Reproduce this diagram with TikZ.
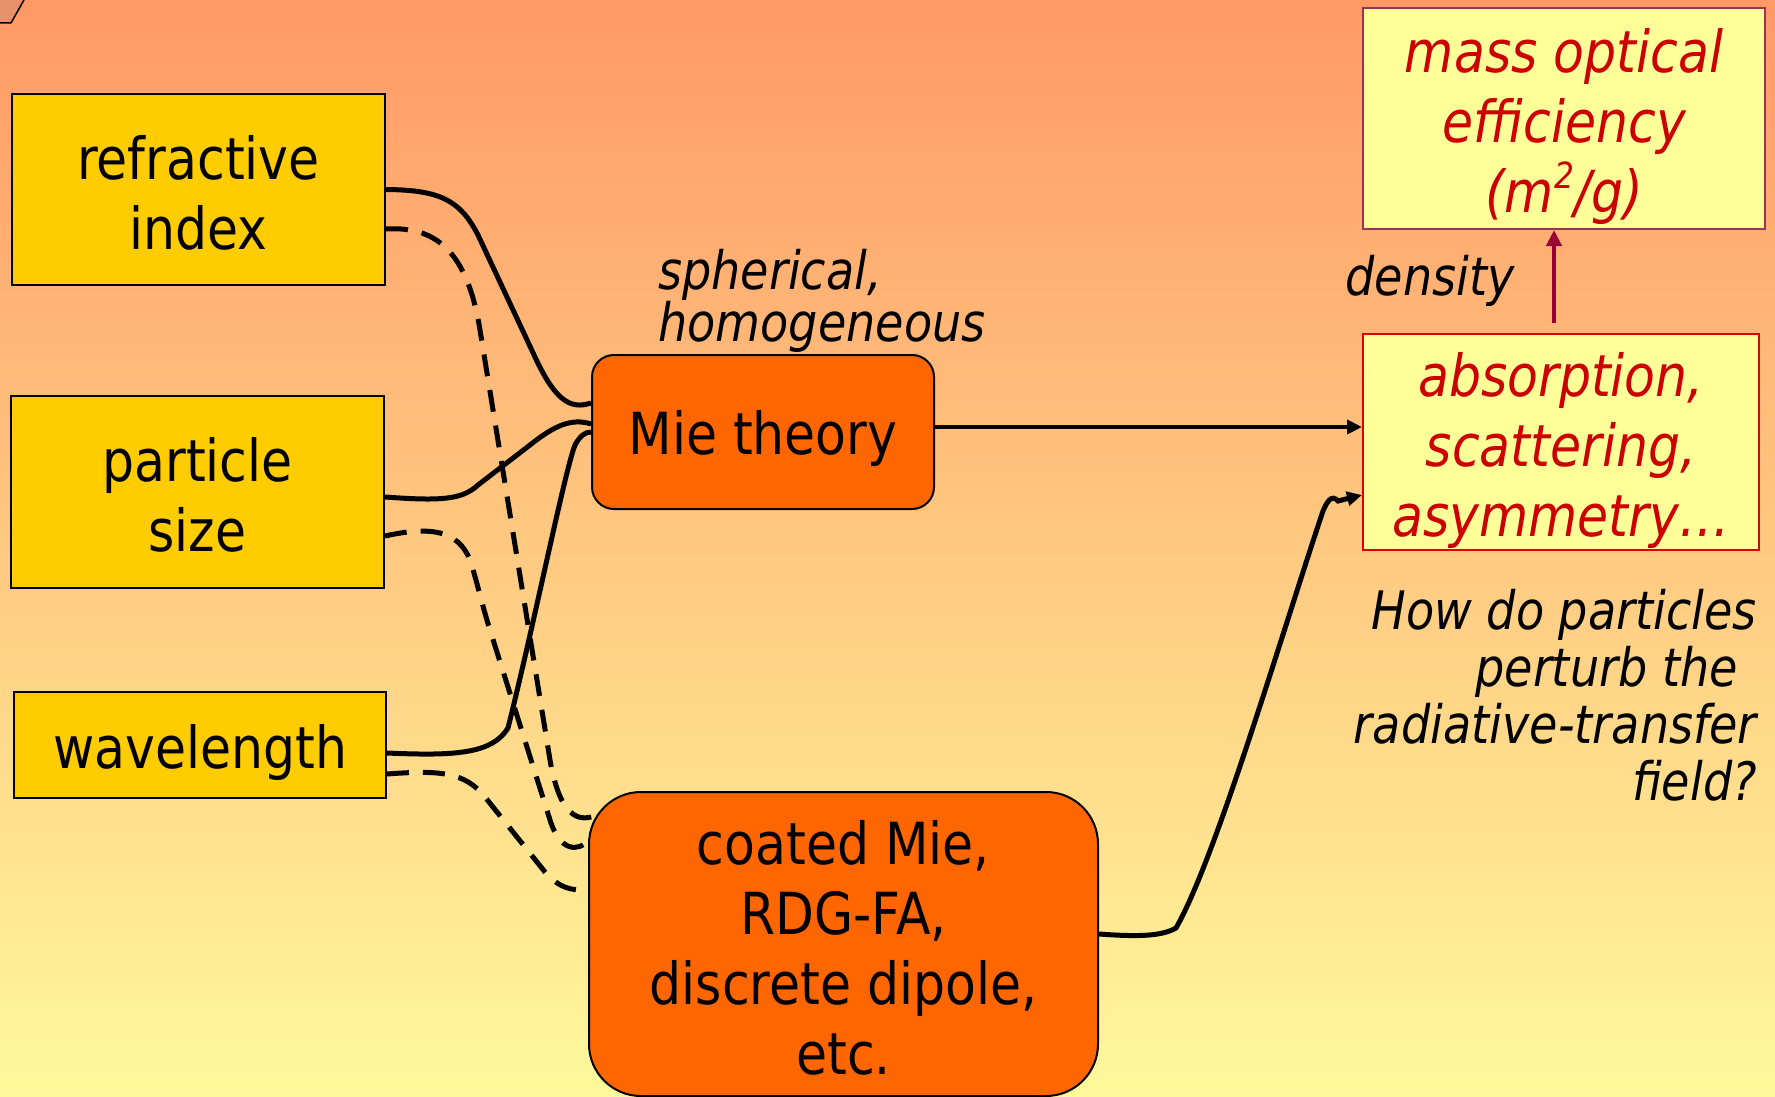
\documentclass[tikz,border=0pt]{standalone}
\usepackage{fontspec}
\setmainfont{DejaVu Sans}[FakeStretch=0.87]
\usetikzlibrary{arrows.meta}
\definecolor{bgtop}{HTML}{FF9966}
\definecolor{bgbot}{HTML}{FFF99C}
\definecolor{ybox}{HTML}{FFCC00}
\definecolor{obox}{HTML}{FF6600}
\definecolor{pbox}{HTML}{FFFF99}
\definecolor{redtxt}{HTML}{CC0000}
\definecolor{redborder}{HTML}{DD0000}
\definecolor{maroonarrow}{HTML}{990033}
\definecolor{massborder}{HTML}{993355}
\definecolor{cornerfill}{HTML}{E8906A}
\begin{document}
\begin{tikzpicture}[x=1pt,y=-1pt,
  inbox/.style={draw=black, line width=2pt, fill=ybox, inner sep=0pt},
  modelbox/.style={draw=black, line width=2pt, fill=obox, inner sep=0pt},
  resbox/.style={line width=2pt, fill=pbox, inner sep=0pt},
  boxtext/.style={align=center, inner sep=0pt, font=\fontsize{58}{70}\selectfont},
  restext/.style={boxtext, text=redtxt, font=\fontsize{58}{70}\selectfont\itshape},
  link/.style={line width=5pt, draw=black},
  dlink/.style={link, dash pattern=on 22pt off 14pt},
  note/.style={inner sep=0pt, font=\fontsize{53}{57}\selectfont\itshape},
  tipblack/.style={-{Triangle[length=15pt,width=14pt]}}
]
\useasboundingbox (0,0) rectangle (1775,1097);
\shade[top color=bgtop, bottom color=bgbot] (0,0) rectangle (1775,1097);
\fill[cornerfill] (0,0) -- (24,0) -- (11,23) -- (0,23) -- cycle;
\draw[line width=1.5pt] (0,23) -- (11,23) -- (24,0);

% boxes
\node[inbox, minimum width=373pt, minimum height=191pt] (ri) at (198.5,189.5) {};
\node[boxtext] (ri-t) at ([yshift=-3pt]ri.center) {refractive\\index};
\node[inbox, minimum width=373pt, minimum height=192pt] (ps) at (197.5,492) {};
\node[boxtext] (ps-t) at ([yshift=-3pt]ps.center) {particle\\size};
\node[inbox, minimum width=372pt, minimum height=106pt] (wl) at (200,745) {};
\node[boxtext] (wl-t) at ([yshift=-7pt]wl.center) {wavelength};
\node[modelbox, rounded corners=22pt, minimum width=342pt, minimum height=154pt] (mie) at (763,432) {};
\node[boxtext] (mie-t) at ([yshift=-6pt]mie.center) {Mie theory};
\node[modelbox, rounded corners=52pt, minimum width=509pt, minimum height=304pt] (coat) at (843.5,944) {};
\node[boxtext] (coat-t) at ([yshift=-4pt]coat.center) {coated Mie,\\RDG-FA,\\discrete dipole,\\etc.};
\node[resbox, draw=redborder, minimum width=396pt, minimum height=216pt] (abs) at (1561,442) {};
\node[restext] (abs-t) at ([yshift=-8pt]abs.center) {absorption,\\scattering,\\asymmetry…};
\node[resbox, draw=massborder, minimum width=402pt, minimum height=221pt] (mass) at (1564,118.5) {};
\node[restext] (mass-t) at ([yshift=-8pt]mass.center) {mass optical\\efficiency\\(m\raisebox{0.42em}{\fontsize{36}{36}\selectfont 2}/g)};

% labels
\node[note, anchor=west, align=left, font=\fontsize{53}{51}\selectfont\itshape] (sph) at (658,301) {spherical,\\homogeneous};
\node[note] (dens) at (1430,281) {density};
\node[note, anchor=east, align=right] (how) at (1757,695) {How do particles\\perturb the\rule{19pt}{0pt}\\radiative-transfer\\field?};

% solid links to Mie theory
\draw[link] (ri.east) .. controls (440,190) and (460,200) .. (478,235) -- (535,357) .. controls (555,400) and (570,410) .. ([yshift=29pt]mie.west);
\draw[link] ([yshift=-5pt]ps.east) .. controls (440,501) and (462,500) .. (478,485) -- (530,445) .. controls (555,425) and (572,418) .. ([yshift=8pt]mie.west);
\draw[link] ([yshift=-8pt]wl.east) .. controls (455,756) and (492,754) .. (508,728) .. controls (535,620) and (565,470) .. (575,445) .. controls (580,436) and (585,432) .. (mie.west);

% dashed links to coated box
\draw[dlink] ([yshift=-39.5pt]ri.east) .. controls (435,226) and (467,250) .. (480,330) -- (550,760) .. controls (558,805) and (572,826) .. ([xshift=9pt,yshift=129pt]coat.west);
\draw[dlink] ([yshift=-44pt]ps.east) .. controls (430,526) and (458,530) .. (470,560) .. controls (478,585) and (482,605) .. (490,630) -- (550,820) .. controls (560,852) and (578,852) .. ([xshift=1pt,yshift=104pt]coat.west);
\draw[dlink] ([yshift=-29pt]wl.east) .. controls (440,770) and (465,772) .. (485,797) -- (545,872) .. controls (558,887) and (572,892) .. ([yshift=55pt]coat.west);

% links to results
\draw[link, line width=4pt, tipblack] ([yshift=5pt]mie.east) -- ([yshift=15pt]abs.west);
\draw[link, tipblack] ([yshift=10pt]coat.east) .. controls (1140,937) and (1162,936) .. (1176,928) .. controls (1215,860) and (1280,640) .. (1320,520) .. controls (1326,500) and (1332,494) .. (1338,501) -- ([yshift=-53pt]abs.west);
\draw[line width=4.5pt, draw=maroonarrow, -{Triangle[length=16pt,width=15pt]}] ([xshift=-7pt,yshift=10pt]abs.north) -- ([xshift=-10pt]mass.south);
\end{tikzpicture}
\end{document}
